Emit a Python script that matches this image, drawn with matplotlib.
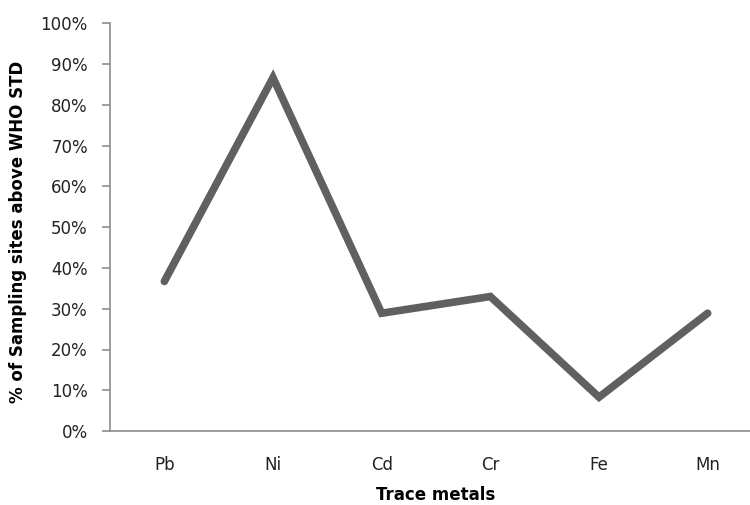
import matplotlib
matplotlib.use("Agg")
import matplotlib.pyplot as plt
from matplotlib.ticker import PercentFormatter

metals = ["Pb", "Ni", "Cd", "Cr", "Fe", "Mn"]
pct_above = [36.7, 86.7, 28.9, 33.0, 8.3, 28.9]
y_ticks = list(range(0, 101, 10))

plt.rcParams['font.family'] = ['DejaVu Sans']

fig = plt.figure(figsize=(7.5, 5.05), dpi=100)
ax = fig.add_axes([110/750, 74/505, 652/750, 407.5/505])

x = list(range(len(metals)))
ax.plot(x, pct_above, color="#606060", linewidth=5.5, solid_capstyle="round", solid_joinstyle="miter")

ax.set_xlim(-0.5, len(metals) - 0.5)
ax.set_ylim(0, 100)
ax.set_yticks(y_ticks)
ax.yaxis.set_major_formatter(PercentFormatter(decimals=0))
ax.set_xticks(x)
ax.set_xticklabels(metals)

for s in ["top", "right"]:
    ax.spines[s].set_visible(False)
for s in ["left", "bottom"]:
    ax.spines[s].set_color("#8c8c8c")
    ax.spines[s].set_linewidth(1.2)

ax.tick_params(axis="y", length=6, color="#8c8c8c", width=1.2, labelsize=12, pad=10, labelcolor="#222222")
ax.tick_params(axis="x", length=0, labelsize=12, pad=18, labelcolor="#222222")

fig.text(18/750, 1 - 232/505, "% of Sampling sites above WHO STD", rotation=90,
         ha="center", va="center", fontsize=12, fontweight="bold")
fig.text(436/750, 1 - 495/505, "Trace metals", ha="center", va="center", fontsize=12, fontweight="bold")

fig.savefig("out.png", dpi=100)
